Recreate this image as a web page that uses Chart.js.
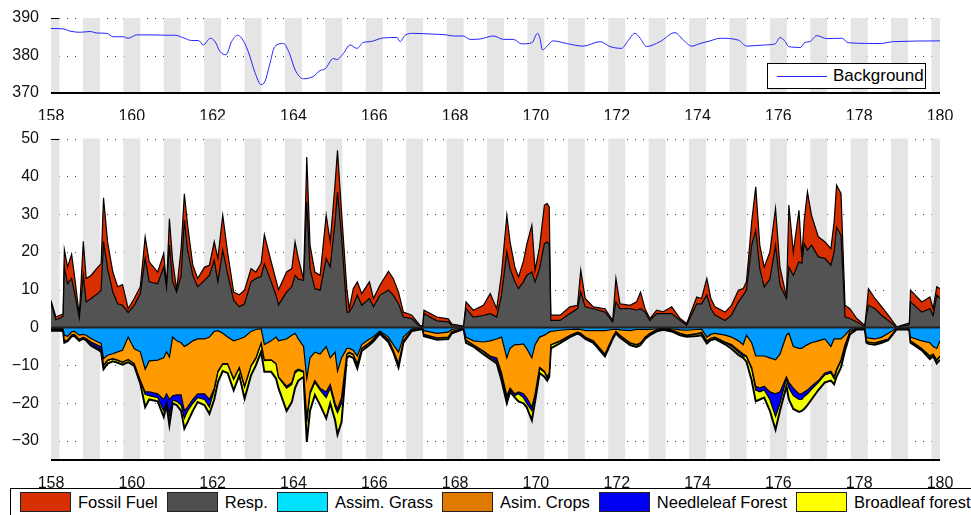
<!DOCTYPE html>
<html>
<head>
<meta charset="utf-8">
<title>Background CO2 and flux components</title>
<script src="https://cdn.jsdelivr.net/npm/chart.js@4.4.1/dist/chart.umd.min.js"></script>
<style>
  html, body { margin: 0; padding: 0; background: #fff; }
  body { position: relative; width: 971px; height: 515px; overflow: hidden;
         font-family: "Liberation Sans", Arial, sans-serif; color: #000; }
  #bgChart { position: absolute; left: 0; top: 0; }
  #fluxChart { position: absolute; left: 0; top: 120px; }
  #bg-legend { position: absolute; left: 767px; top: 63px; width: 157px; height: 24px;
               border: 1.5px solid #000; background: #fff; font-size: 17px; }
  #bg-legend .line { position: absolute; left: 9px; top: 12px; width: 50px; border-top: 1px solid #2424ff; }
  #bg-legend .text { position: absolute; left: 65px; top: 2px; }
  #flux-legend { position: absolute; left: 10px; top: 488px; width: 1000px; height: 30px;
                 border: 1px solid #000; background: #fff; display: flex; align-items: flex-start;
                 font-size: 16.5px; }
  .item { display: flex; align-items: center; margin-left: 9px; margin-top: 3px; white-space: nowrap; }
  .swatch { width: 49px; height: 18px; border: 1px solid #222; margin-right: 7px; }
</style>
</head>
<body>
<canvas id="bgChart" width="971" height="120"></canvas>
<canvas id="fluxChart" width="971" height="370"></canvas>
<div id="bg-legend"><span class="line"></span><span class="text"></span></div>
<div id="flux-legend"></div>

<script>
// --- background CO2 (ppm) ---
const bgDays = [158.0, 158.3, 158.47, 158.72, 158.97, 159.13, 159.38, 159.54, 159.79, 159.91,
  160.12, 160.45, 160.95, 161.07, 161.28, 161.48, 161.65, 161.77, 161.94, 162.06,
  162.18, 162.33, 162.47, 162.61, 162.72, 162.88, 163.05, 163.2, 163.3, 163.4,
  163.54, 163.75, 163.9, 164.04, 164.25, 164.49, 164.66, 164.78, 164.99, 165.07,
  165.24, 165.4, 165.57, 165.73, 165.9, 166.23, 166.56, 166.64, 166.76, 166.97,
  167.46, 167.79, 167.96, 168.2, 168.37, 168.62, 168.95, 169.2, 169.44, 169.65,
  169.9, 170.04, 170.1, 170.16, 170.27, 170.42, 170.76, 171.17, 171.59, 171.83,
  172.12, 172.29, 172.45, 172.58, 172.74, 173.07, 173.44, 173.65, 173.86, 174.06,
  174.31, 174.56, 175.01, 175.22, 175.63, 175.92, 176.04, 176.17, 176.25, 176.41,
  176.54, 176.66, 176.78, 176.95, 177.2, 177.57, 177.73, 178.52, 178.85, 180.0];
const bgCO2 = [387.2, 387.1, 386.5, 386.2, 386.4, 386.0, 385.9, 385.0, 385.0, 384.6,
  385.5, 385.5, 385.4, 385.4, 384.7, 384.0, 384.0, 382.8, 384.6, 383.7,
  381.1, 380.2, 383.7, 385.4, 384.6, 381.1, 375.4, 372.2, 373.2, 377.1,
  382.4, 383.2, 380.6, 376.2, 373.8, 374.4, 376.0, 376.4, 379.2, 378.9,
  380.6, 382.8, 381.9, 383.5, 383.7, 384.7, 384.8, 383.7, 385.4, 385.9,
  385.7, 385.5, 385.2, 385.2, 384.3, 384.4, 385.2, 384.3, 384.3, 383.1,
  383.4, 385.9, 384.6, 381.5, 382.4, 383.9, 383.2, 382.5, 383.7, 382.4,
  381.9, 384.1, 385.9, 384.6, 382.4, 383.7, 386.1, 384.1, 382.5, 383.2,
  383.9, 384.6, 384.1, 382.5, 382.8, 383.1, 384.8, 383.7, 382.4, 382.2,
  382.1, 383.5, 383.7, 385.3, 384.5, 384.6, 383.4, 383.2, 383.7, 383.9];

// --- flux components: edges of each stacked layer ---
const days = [158.00, 158.12, 158.25, 158.30, 158.33, 158.41, 158.51, 158.58, 158.70, 158.80,
  158.87, 158.99, 159.16, 159.24, 159.30, 159.40, 159.53, 159.65, 159.77, 159.91,
  160.06, 160.21, 160.33, 160.43, 160.64, 160.79, 160.86, 160.93, 161.01, 161.11,
  161.22, 161.30, 161.38, 161.51, 161.63, 161.80, 161.92, 162.04, 162.13, 162.25,
  162.37, 162.52, 162.66, 162.79, 162.95, 163.07, 163.20, 163.28, 163.45, 163.57,
  163.63, 163.83, 163.96, 164.04, 164.12, 164.25, 164.33, 164.41, 164.53, 164.66,
  164.81, 164.91, 165.03, 165.09, 165.19, 165.32, 165.38, 165.48, 165.58, 165.69,
  165.88, 165.98, 166.14, 166.35, 166.47, 166.60, 166.72, 166.93, 167.13, 167.20,
  167.23, 167.55, 167.83, 167.92, 168.21, 168.27, 168.45, 168.70, 168.87, 169.03,
  169.15, 169.28, 169.36, 169.48, 169.57, 169.69, 169.77, 169.90, 169.98, 170.09,
  170.21, 170.28, 170.33, 170.37, 170.60, 170.84, 171.03, 171.11, 171.22, 171.42,
  171.71, 171.90, 171.98, 172.08, 172.33, 172.49, 172.59, 172.70, 172.82, 172.99,
  173.15, 173.36, 173.57, 173.73, 173.98, 174.10, 174.23, 174.33, 174.43, 174.68,
  174.84, 175.01, 175.13, 175.21, 175.34, 175.44, 175.54, 175.65, 175.79, 175.93,
  176.04, 176.20, 176.26, 176.37, 176.51, 176.58, 176.64, 176.72, 176.82, 176.99,
  177.15, 177.30, 177.38, 177.44, 177.55, 177.65, 177.77, 177.94, 178.14, 178.18,
  178.23, 178.39, 178.56, 178.72, 178.93, 179.17, 179.24, 179.27, 179.55, 179.75,
  179.83, 179.92, 180.00];

// top of the respiration layer (grey)
const respTop = [6.5, 2.1, 2.6, 3.0, 16.0, 11.6, 13.0, 9.4, 2.5, 13.8,
  6.8, 7.7, 9.0, 9.9, 22.7, 15.6, 9.4, 6.3, 5.9, 4.0,
  5.9, 9.0, 18.3, 12.1, 11.6, 16.0, 10.5, 21.8, 12.1, 9.4,
  13.8, 28.4, 20.5, 13.8, 10.8, 12.5, 13.8, 17.8, 12.1, 20.5,
  14.3, 7.2, 5.5, 6.3, 12.1, 13.0, 13.5, 16.9, 12.1, 8.5,
  6.0, 9.4, 10.8, 13.8, 12.8, 12.5, 33.2, 15.6, 10.3, 9.9,
  18.3, 16.0, 28.0, 35.9, 24.1, 4.1, 4.1, 5.9, 8.6, 5.9,
  7.7, 5.5, 8.6, 9.9, 8.6, 6.3, 2.8, 2.4, 0.2, 0.3,
  3.7, 1.8, 1.5, 0.5, 0.3, 5.0, 2.8, 3.2, 3.7, 2.8,
  8.6, 20.0, 15.6, 12.1, 10.3, 12.1, 13.8, 14.7, 12.1, 15.6,
  22.2, 22.7, 21.8, 1.9, 1.9, 3.7, 5.0, 9.4, 5.5, 5.0,
  4.1, 1.5, 6.8, 5.0, 5.0, 4.6, 5.0, 4.1, 1.9, 3.7,
  3.7, 3.7, 1.9, 0.6, 6.3, 6.3, 8.6, 5.0, 3.3, 1.9,
  3.3, 6.8, 8.6, 9.9, 21.8, 25.7, 15.6, 10.8, 12.8, 21.8,
  11.2, 7.7, 16.0, 13.8, 17.4, 17.0, 22.2, 20.5, 21.8, 18.7,
  18.3, 16.5, 20.0, 26.6, 24.4, 2.8, 2.4, 1.5, 0.2, 3.2,
  5.9, 5.0, 3.2, 1.9, 0.1, 0.6, 0.8, 6.8, 4.1, 5.0,
  3.2, 8.6, 7.7];

// top of the fossil fuel layer (red, sits on respiration)
const fossilTop = [7.2, 2.8, 3.4, 3.6, 20.6, 16.0, 19.4, 13.8, 3.3, 22.8,
  13.0, 13.8, 16.0, 16.9, 34.3, 22.7, 14.7, 10.8, 11.4, 5.0,
  7.7, 10.8, 24.0, 17.4, 14.7, 19.6, 10.8, 28.8, 17.8, 9.9,
  20.9, 35.4, 27.1, 16.5, 13.0, 16.0, 16.5, 22.7, 18.3, 29.7,
  20.0, 9.4, 8.7, 9.9, 15.6, 14.7, 17.0, 24.6, 17.4, 12.5,
  10.0, 14.7, 15.6, 22.7, 18.3, 12.8, 45.1, 21.8, 14.7, 13.8,
  29.7, 22.7, 38.0, 46.9, 30.6, 10.3, 5.0, 10.3, 12.1, 9.0,
  12.1, 7.7, 11.2, 14.9, 13.0, 9.4, 4.1, 3.3, 0.6, 0.5,
  4.6, 2.8, 2.3, 0.9, 0.4, 6.8, 4.6, 5.9, 9.0, 5.0,
  14.3, 29.7, 22.7, 16.0, 13.4, 17.5, 21.8, 27.1, 15.2, 21.3,
  32.4, 32.8, 31.9, 3.3, 3.3, 5.5, 5.9, 15.2, 7.7, 5.5,
  5.0, 1.9, 13.0, 6.3, 5.9, 6.8, 9.4, 5.0, 2.4, 4.6,
  4.2, 5.5, 2.4, 1.1, 8.1, 7.7, 13.0, 7.7, 5.5, 4.1,
  5.9, 9.9, 10.3, 12.1, 28.0, 37.2, 21.8, 16.0, 20.0, 31.5,
  16.0, 8.1, 32.4, 20.0, 31.0, 18.5, 28.4, 35.9, 29.7, 24.0,
  22.7, 20.9, 28.0, 37.7, 35.5, 5.9, 5.0, 2.4, 0.6, 4.6,
  10.3, 7.7, 5.5, 3.3, 0.2, 1.0, 1.2, 9.9, 6.8, 8.1,
  5.0, 10.8, 10.3];

// lower edge of grass assimilation (light blue, hangs below zero)
const grassLow = [-0.2, -0.2, -0.2, -0.3, -2.0, -2.3, -1.1, -1.0, -2.0, -1.8,
  -2.0, -2.9, -3.8, -4.2, -8.2, -7.3, -6.9, -6.4, -6.0, -2.5,
  -5.6, -6.4, -11.0, -8.8, -8.6, -8.0, -6.4, -7.8, -2.5, -3.5,
  -4.0, -5.0, -4.5, -3.5, -3.0, -3.0, -2.5, -1.0, -0.8, -1.5,
  -2.5, -3.5, -3.0, -2.5, -1.0, -0.5, -0.3, -4.5, -3.5, -2.5,
  -3.5, -3.0, -2.0, -1.5, -3.0, -5.0, -13.5, -8.0, -6.5, -7.0,
  -5.0, -8.0, -6.5, -11.5, -8.0, -5.5, -5.5, -6.0, -7.5, -4.5,
  -3.0, -2.4, -0.9, -2.5, -4.5, -6.5, -2.5, -0.3, -0.2, -0.2,
  -0.8, -1.5, -1.2, -0.5, -0.1, -2.5, -3.5, -3.8, -3.5, -3.0,
  -2.5, -8.0, -5.5, -4.5, -4.5, -4.3, -5.5, -8.0, -4.5, -2.5,
  -2.0, -1.5, -1.2, -1.0, -0.7, -0.5, -0.4, -0.5, -0.8, -0.8,
  -0.8, -0.5, -0.4, -0.6, -0.8, -0.5, -0.5, -0.5, -0.5, -0.3,
  -0.2, -0.3, -0.6, -0.7, -0.5, -0.4, -2.5, -1.8, -1.5, -2.0,
  -2.5, -3.5, -4.5, -2.0, -4.0, -7.5, -7.5, -7.5, -8.0, -8.5,
  -7.0, -2.0, -1.5, -5.0, -5.5, -5.5, -5.0, -4.5, -4.0, -3.5,
  -3.0, -5.0, -3.0, -3.0, -3.0, -2.0, -0.5, -0.2, -0.1, -2.5,
  -2.8, -3.0, -2.5, -1.5, -0.1, -0.2, -0.3, -2.5, -3.5, -4.0,
  -5.0, -5.5, -3.5];

// lower edge of crop assimilation (orange)
const cropsLow = [-0.4, -0.4, -0.4, -0.5, -3.5, -3.3, -1.9, -1.8, -3.1, -2.5,
  -2.9, -3.8, -4.7, -5.1, -10.0, -8.6, -8.2, -8.6, -9.1, -8.4,
  -9.5, -13.9, -17.0, -17.0, -17.5, -19.0, -17.5, -19.0, -18.0, -17.8,
  -17.8, -22.0, -21.0, -19.0, -17.5, -17.5, -19.0, -16.0, -11.5, -9.5,
  -9.5, -13.5, -10.5, -15.5, -10.0, -8.0, -4.0, -8.5, -8.5, -9.5,
  -13.0, -15.5, -14.5, -11.5, -11.0, -11.5, -24.0, -17.0, -14.0, -16.0,
  -17.0, -15.0, -20.0, -21.5, -18.5, -7.0, -6.5, -7.0, -9.5, -5.5,
  -4.0, -3.0, -1.2, -3.2, -6.0, -9.5, -3.5, -0.6, -0.3, -0.3,
  -1.8, -2.7, -2.5, -1.0, -0.2, -3.3, -4.5, -6.2, -7.5, -8.0,
  -12.0, -18.0, -16.0, -17.5, -17.0, -17.5, -18.5, -21.0, -17.5, -10.5,
  -11.5, -13.0, -12.0, -4.5, -3.5, -2.0, -1.2, -1.5, -2.5, -3.5,
  -7.0, -2.5, -1.0, -2.0, -4.0, -4.5, -4.0, -2.5, -1.5, -0.5,
  -0.3, -0.6, -1.5, -2.0, -1.6, -1.3, -3.5, -2.8, -2.5, -3.8,
  -4.5, -6.0, -7.0, -7.5, -10.5, -15.5, -16.0, -15.5, -17.0, -17.5,
  -17.0, -13.0, -14.5, -16.0, -17.5, -17.5, -17.0, -16.5, -15.5, -14.0,
  -12.0, -11.5, -13.0, -11.0, -8.5, -4.5, -1.0, -0.3, -0.2, -3.5,
  -3.8, -4.0, -3.5, -3.0, -0.2, -0.3, -0.4, -3.5, -5.5, -7.5,
  -7.0, -8.5, -7.5];

// lower edge of needleleaf forest (dark blue)
const needleLow = [-0.5, -0.5, -0.5, -0.6, -3.6, -3.4, -2.0, -1.9, -3.2, -2.6,
  -3.1, -4.4, -5.4, -6.0, -10.1, -8.7, -8.3, -8.7, -9.2, -8.5,
  -9.6, -14.0, -17.6, -18.0, -18.5, -22.0, -19.5, -23.0, -19.2, -19.5,
  -20.5, -24.0, -22.0, -20.0, -18.5, -19.0, -21.0, -16.5, -11.8, -9.7,
  -9.7, -13.7, -10.7, -15.7, -10.2, -8.2, -4.1, -8.7, -8.6, -9.6,
  -13.2, -16.0, -15.0, -12.0, -11.3, -11.8, -25.0, -17.5, -14.5, -16.5,
  -18.5, -16.0, -21.0, -22.5, -20.0, -7.2, -6.7, -7.2, -9.7, -5.6,
  -4.1, -3.1, -1.3, -3.3, -6.1, -9.6, -3.6, -0.7, -0.4, -0.4,
  -1.9, -2.8, -2.6, -1.1, -0.3, -3.4, -4.6, -6.4, -7.8, -9.0,
  -13.0, -19.0, -16.5, -18.0, -17.5, -18.5, -20.0, -22.0, -18.0, -10.8,
  -11.8, -13.3, -12.2, -4.6, -3.6, -2.1, -1.3, -1.6, -2.6, -3.6,
  -7.1, -2.6, -1.1, -2.1, -4.1, -4.6, -4.1, -2.6, -1.6, -0.6,
  -0.4, -0.7, -1.6, -2.1, -1.7, -1.4, -3.6, -2.9, -2.6, -4.0,
  -4.9, -6.5, -7.5, -7.7, -11.0, -16.5, -17.0, -16.5, -19.0, -23.5,
  -20.0, -13.5, -16.0, -18.0, -19.0, -19.0, -18.2, -17.5, -16.3, -14.5,
  -12.5, -12.0, -13.5, -11.5, -8.8, -4.7, -1.1, -0.4, -0.3, -3.6,
  -3.9, -4.1, -3.6, -3.1, -0.3, -0.4, -0.5, -3.6, -5.6, -7.6,
  -7.1, -8.7, -7.7];

// lower edge of broadleaf forest (yellow), i.e. total uptake
const broadLow = [-0.8, -0.8, -0.8, -0.9, -4.0, -3.6, -2.3, -2.2, -3.5, -2.9,
  -3.4, -4.8, -5.8, -6.4, -11.0, -9.5, -8.9, -9.3, -9.8, -9.1,
  -10.1, -14.8, -21.0, -19.0, -19.5, -23.6, -20.5, -25.8, -20.0, -20.5,
  -22.0, -26.7, -25.0, -22.0, -19.7, -20.5, -22.8, -19.0, -14.4, -11.5,
  -12.0, -16.6, -12.6, -18.8, -12.6, -10.0, -6.4, -11.7, -11.7, -13.5,
  -16.0, -22.0, -19.7, -16.0, -14.0, -13.0, -30.2, -22.0, -17.8, -20.5,
  -24.0, -20.0, -24.5, -28.3, -25.0, -8.0, -7.5, -8.0, -10.8, -6.2,
  -4.6, -3.6, -1.6, -3.8, -6.5, -10.5, -4.0, -0.9, -0.5, -0.5,
  -2.3, -3.2, -3.0, -1.5, -0.4, -4.0, -5.0, -7.0, -8.3, -9.5,
  -14.0, -20.0, -17.0, -18.5, -19.5, -20.0, -21.0, -24.5, -19.5, -12.0,
  -13.0, -14.0, -13.0, -5.5, -4.1, -2.5, -1.6, -2.0, -3.0, -4.0,
  -7.6, -3.0, -1.5, -2.6, -4.6, -5.1, -4.6, -3.0, -2.0, -1.0,
  -0.6, -1.0, -2.0, -2.4, -2.2, -2.0, -4.2, -3.3, -3.0, -4.4,
  -5.6, -7.2, -8.0, -9.0, -14.0, -19.5, -19.0, -18.5, -22.0, -27.0,
  -22.0, -15.5, -19.0, -21.5, -22.3, -22.0, -21.5, -20.5, -19.0, -16.5,
  -14.5, -14.0, -15.0, -13.0, -10.5, -6.0, -1.8, -0.5, -0.4, -4.0,
  -4.3, -4.5, -4.0, -3.3, -0.4, -0.5, -0.6, -4.0, -6.0, -8.3,
  -7.5, -9.5, -8.5];

const xTicks = [158, 160, 162, 164, 166, 168, 170, 172, 174, 176, 178, 180];
const bgTicks = [370, 380, 390];
const fluxTicks = [-30, -20, -10, 0, 10, 20, 30, 40, 50];

const legendOrder = ['Fossil Fuel', 'Resp.', 'Assim. Grass', 'Asim. Crops', 'Needleleaf Forest', 'Broadleaf forest'];
const legendColors = ['#d62f00', '#4f4f4f', '#00e1ff', '#e07a00', '#0000f5', '#ffff00'];

Chart.defaults.font.family = '"Liberation Sans", Arial, sans-serif';
Chart.defaults.font.size = 16;
Chart.defaults.color = '#111';

// dotted grid + grey night bands under the data, axis line and zero line over it
const matlabAxes = {
    id: 'matlabAxes',
    beforeDatasetsDraw(chart, args, opts) {
        const { ctx, chartArea: a, scales: { x, y } } = chart;
        ctx.save();
        ctx.strokeStyle = '#444';
        ctx.lineWidth = 1;
        ctx.setLineDash([1, 7]);
        opts.grid.forEach(v => {
            const py = Math.round(y.getPixelForValue(v)) + 0.5;
            ctx.beginPath();
            ctx.moveTo(a.left, py);
            ctx.lineTo(a.right, py);
            ctx.stroke();
        });
        ctx.setLineDash([]);
        ctx.fillStyle = '#e5e5e5';
        for (let d = Math.ceil(x.min); d <= x.max; d++) {
            const x0 = Math.max(x.getPixelForValue(d - 0.21), a.left);
            const x1 = Math.min(x.getPixelForValue(d + 0.21), a.right);
            ctx.fillRect(x0, a.top, x1 - x0, a.bottom - a.top);
        }
        ctx.restore();
    },
    afterDatasetsDraw(chart, args, opts) {
        const { ctx, chartArea: a, scales: { y } } = chart;
        ctx.save();
        if (opts.zeroLine) {
            const p0 = y.getPixelForValue(0);
            ctx.lineWidth = 2;
            ctx.strokeStyle = '#222';
            ctx.beginPath();
            ctx.moveTo(a.left, p0);
            ctx.lineTo(a.right, p0);
            ctx.stroke();
        }
        ctx.strokeStyle = '#000';
        ctx.lineWidth = 2;
        ctx.beginPath();
        ctx.moveTo(a.left, a.bottom);
        ctx.lineTo(a.right, a.bottom);
        ctx.stroke();
        // short tick on the left at the top gridline
        ctx.lineWidth = 1;
        ctx.beginPath();
        ctx.moveTo(a.left, Math.round(a.top) + 0.5);
        ctx.lineTo(a.left + 8, Math.round(a.top) + 0.5);
        ctx.stroke();
        ctx.restore();
    }
};

function xScale(height) {
    return {
        type: 'linear', min: 158, max: 180,
        grid: { display: false }, border: { display: false },
        afterBuildTicks: s => { s.ticks = xTicks.map(v => ({ value: v })); },
        afterFit: s => { s.height = height; },
        ticks: { padding: 6, autoSkip: false, maxRotation: 0 }
    };
}

function yScale(min, max, ticks) {
    return {
        min: min, max: max,
        grid: { display: false }, border: { display: false },
        afterBuildTicks: s => { s.ticks = ticks.map(v => ({ value: v })); },
        afterFit: s => { s.width = 51; },
        ticks: {
            padding: 4,
            callback: v => v < 0 ? '\u2212' + Math.abs(v) : String(v)
        }
    };
}

function xy(arr, xs) {
    return xs.map((d, i) => ({ x: d, y: arr[i] }));
}

const bgChart = new Chart(document.getElementById('bgChart'), {
    type: 'line',
    data: {
        datasets: [{
            label: 'Background',
            data: xy(bgCO2, bgDays),
            borderColor: '#2424ff',
            borderWidth: 1,
            pointRadius: 0,
            cubicInterpolationMode: 'monotone',
            fill: false
        }]
    },
    options: {
        responsive: false,
        animation: false,
        layout: { padding: { top: 18, right: 31, left: 0, bottom: 0 } },
        scales: { x: xScale(27), y: yScale(370, 390, bgTicks) },
        plugins: {
            legend: { display: false },
            tooltip: { enabled: false },
            matlabAxes: { grid: [380, 390], zeroLine: false }
        }
    },
    plugins: [matlabAxes]
});

function layer(label, arr, color, fill, width) {
    return {
        label: label,
        data: xy(arr, days),
        backgroundColor: color,
        borderColor: '#000',
        borderWidth: width || 1.2,
        pointRadius: 0,
        tension: 0,
        fill: fill
    };
}

const fluxChart = new Chart(document.getElementById('fluxChart'), {
    type: 'line',
    data: {
        datasets: [
            layer('Resp.', respTop, '#535353', 'origin'),
            layer('Fossil Fuel', fossilTop, '#d92e00', '-1'),
            layer('Assim. Grass', grassLow, '#009bff', 'origin'),
            layer('Asim. Crops', cropsLow, '#ff9a00', '-1'),
            layer('Needleleaf Forest', needleLow, '#0000ff', '-1'),
            layer('Broadleaf forest', broadLow, '#f2ff00', '-1', 2)
        ]
    },
    options: {
        responsive: false,
        animation: false,
        layout: { padding: { top: 18.5, right: 31, left: 0, bottom: 0 } },
        scales: { x: xScale(30), y: yScale(-35, 50, fluxTicks) },
        plugins: {
            legend: { display: false },
            tooltip: { enabled: false },
            matlabAxes: { grid: fluxTicks, zeroLine: true }
        }
    },
    plugins: [matlabAxes]
});

// legends
document.querySelector('#bg-legend .text').textContent = bgChart.data.datasets[0].label;
const legendBox = document.getElementById('flux-legend');
legendOrder.forEach((name, i) => {
    const item = document.createElement('div');
    item.className = 'item';
    item.innerHTML = `<span class="swatch" style="background:${legendColors[i]}"></span><span>${name}</span>`;
    legendBox.appendChild(item);
});
</script>
</body>
</html>
